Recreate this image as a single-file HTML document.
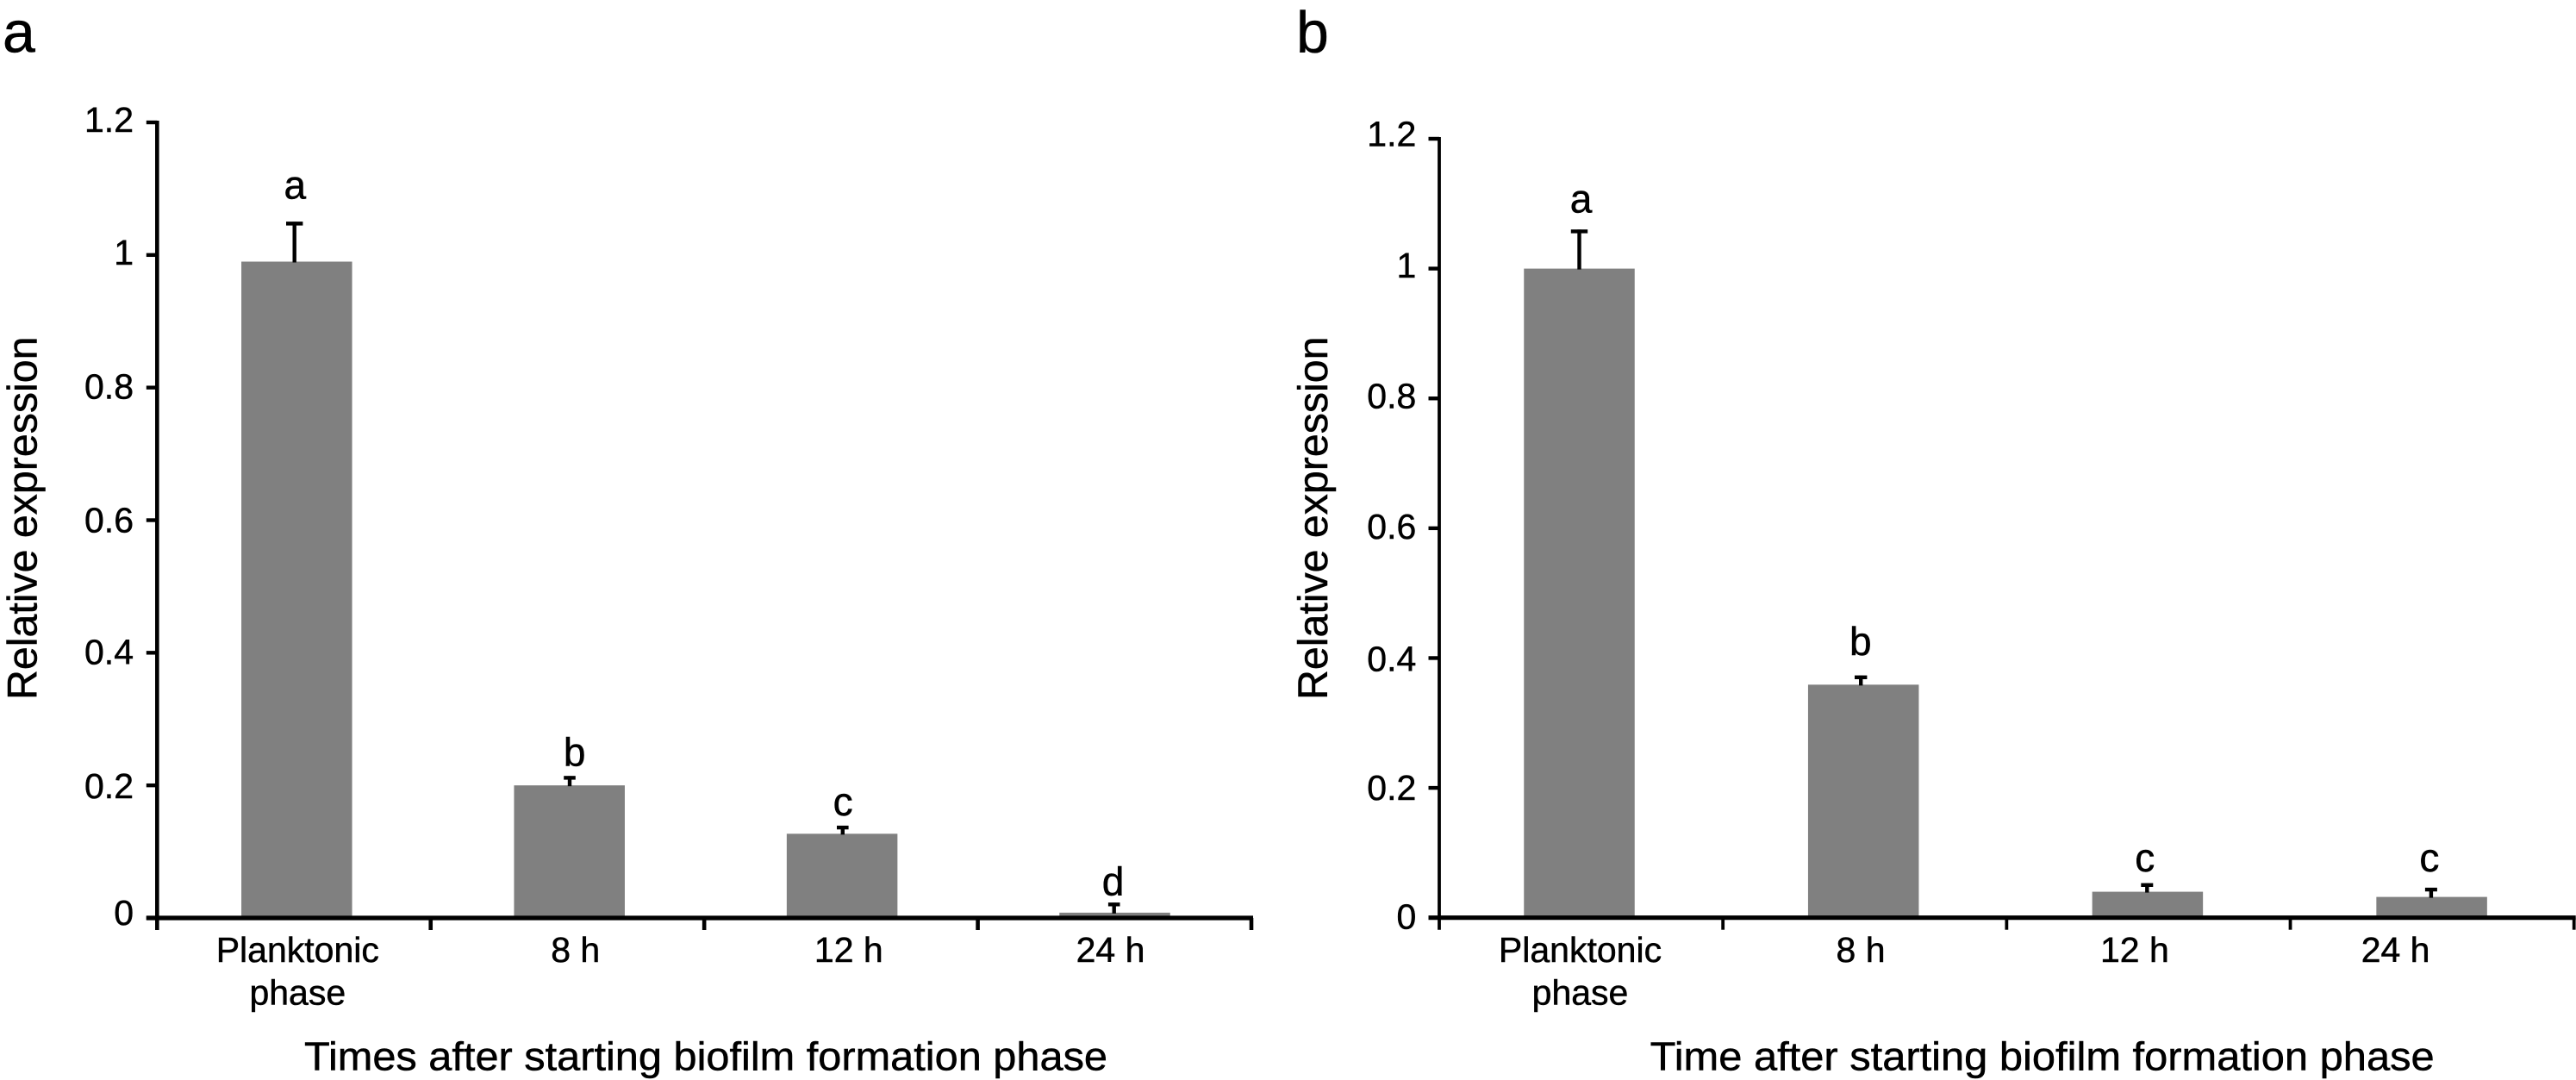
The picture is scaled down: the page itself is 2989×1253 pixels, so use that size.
<!DOCTYPE html>
<html lang="en">
<head>
<meta charset="utf-8">
<title>Relative expression after starting biofilm formation phase</title>
<style>
html,body{margin:0;padding:0;background:#fff;}
svg{display:block;}
text{font-family:"Liberation Sans",Arial,sans-serif;fill:#000;stroke:#000;stroke-width:0.5px;}
</style>
</head>
<body>
<svg id="figure" xmlns="http://www.w3.org/2000/svg" width="2989" height="1253" viewBox="0 0 2989 1253">
<rect x="0" y="0" width="2989" height="1253" fill="#fff"/>
</svg>
<script>
// ---------- chart data ----------
const categories = [["Planktonic","phase"],["8 h"],["12 h"],["24 h"]];
const tickValues = [0,0.2,0.4,0.6,0.8,1,1.2];
const tickLabels = ["0","0.2","0.4","0.6","0.8","1","1.2"];
const valuesA = [0.99,0.2,0.127,0.008];
const errorsA = [0.06,0.014,0.012,0.015];
const lettersA = ["a","b","c","d"];
const valuesB = [1,0.359,0.04,0.032];
const errorsB = [0.06,0.014,0.013,0.014];
const lettersB = ["a","b","c","c"];

// ---------- layout ----------
const layoutA = {
  panel:"a", panelLetterX:3, axisX:182.3, axisW:4.6, topY:142, zeroY:1065, axisEnd:1452,
  barStart:344.3, barStep:316.4, tickLabelRight:155, yTitleX:42.5, xTitleX:353, xTitleW:932,
  xTitle:"Times after starting biofilm formation phase",
  catDx:[1,7,7.7,-5], letterDx:[-2,6,1,-2], letterGap:[27,12,12,9], errDx:[-2.6,0.3,0.7,-0.8],
  capHalf:[9.7,6.8,6.8,6.8], tickLabelDy:[8,15,13,14,12.7,11,11]
};
const layoutB = {
  panel:"b", panelLetterX:1504, axisX:1670, axisW:3.8, topY:161, zeroY:1064.7, axisEnd:2986.7,
  barStart:1832.5, barStep:329.7, tickLabelRight:1643.3, yTitleX:1540, xTitleX:1914.7, xTitleW:910,
  xTitle:"Time after starting biofilm formation phase",
  catDx:[1,-3.2,-15,-42], letterDx:[2,-3.4,-3.2,-2.7], letterGap:[20,24,14,19], errDx:[0,-3,-0.6,-0.7],
  capHalf:[9.7,7.2,7,7], tickLabelDy:[13,14,14.8,12,11.5,10.4,8.4]
};
const BAR_W = 128.5, Y_MAX = 1.2, Y_TICK_LEN = 12.5, X_TICK_LEN = 14;

const svg = document.getElementById("figure");
const NS = "http://www.w3.org/2000/svg";

function make(tag, attrs, txt){
  const el = document.createElementNS(NS, tag);
  for (const k in attrs) el.setAttribute(k, attrs[k]);
  if (txt !== undefined) el.textContent = txt;
  svg.appendChild(el);
  return el;
}

function drawPanel(values, errors, letters, L){
  const p = L.panel;
  const yScale = v => L.zeroY - (v / Y_MAX) * (L.zeroY - L.topY);
  const barX = i => L.barStart + i * L.barStep;
  const tickX = i => L.axisX + i * (L.axisEnd - L.axisX) / categories.length;

  const panelLetter = make("text",{x:L.panelLetterX,y:60.5,"font-size":68},p);
  
  

  values.forEach((v,i)=>{
    const bar = make("rect",{x:barX(i)-BAR_W/2,y:yScale(v),width:BAR_W,height:L.zeroY-yScale(v),fill:"#808080"});
    
    

    const ex = barX(i)+L.errDx[i], eTop = yScale(v+errors[i]);
    const stem = make("line",{x1:ex,x2:ex,y1:eTop,y2:yScale(v)+1,stroke:"#000","stroke-width":4.4});
    
    
    const cap = make("line",{x1:ex-L.capHalf[i],x2:ex+L.capHalf[i],y1:eTop+2,y2:eTop+2,stroke:"#000","stroke-width":4.4});
    
    

    const letter = make("text",{x:barX(i)+L.letterDx[i],y:eTop-L.letterGap[i],"font-size":46,"text-anchor":"middle"},letters[i]);
    
    

    categories[i].forEach((line,j)=>{
      const cat = make("text",{x:barX(i)+L.catDx[i],y:1116+j*49.7,"font-size":41,"text-anchor":"middle"},line);
      
      
    });
  });

  const yAxis = make("line",{x1:L.axisX,x2:L.axisX,y1:L.topY-2,y2:L.zeroY+X_TICK_LEN,stroke:"#000","stroke-width":L.axisW});
  
  

  tickValues.forEach((t,i)=>{
    const y = yScale(t);
    const tick = make("line",{x1:L.axisX-Y_TICK_LEN,x2:L.axisX,y1:y,y2:y,stroke:"#000","stroke-width":4.4});
    
    
    const lab = make("text",{x:L.tickLabelRight,y:y+L.tickLabelDy[i],"font-size":41,"text-anchor":"end"},tickLabels[i]);
    
    
  });

  const xAxis = make("line",{x1:L.axisX-Y_TICK_LEN,x2:L.axisEnd+2,y1:L.zeroY,y2:L.zeroY,stroke:"#000","stroke-width":5.2});
  
  

  for (let i=1;i<=categories.length;i++){
    const t = make("line",{x1:tickX(i),x2:tickX(i),y1:L.zeroY,y2:L.zeroY+X_TICK_LEN,stroke:"#000","stroke-width":L.axisW});
    
    
  }

  const xTitle = make("text",{x:L.xTitleX,y:1241.7,"font-size":46,textLength:L.xTitleW,lengthAdjust:"spacingAndGlyphs"},L.xTitle);
  
  

  const yTitle = make("text",{x:0,y:0,"font-size":48.3,transform:"translate("+L.yTitleX+",812) rotate(-90)"},"Relative expression");
  
  
}

drawPanel(valuesA, errorsA, lettersA, layoutA);
drawPanel(valuesB, errorsB, lettersB, layoutB);
</script>
</body>
</html>
